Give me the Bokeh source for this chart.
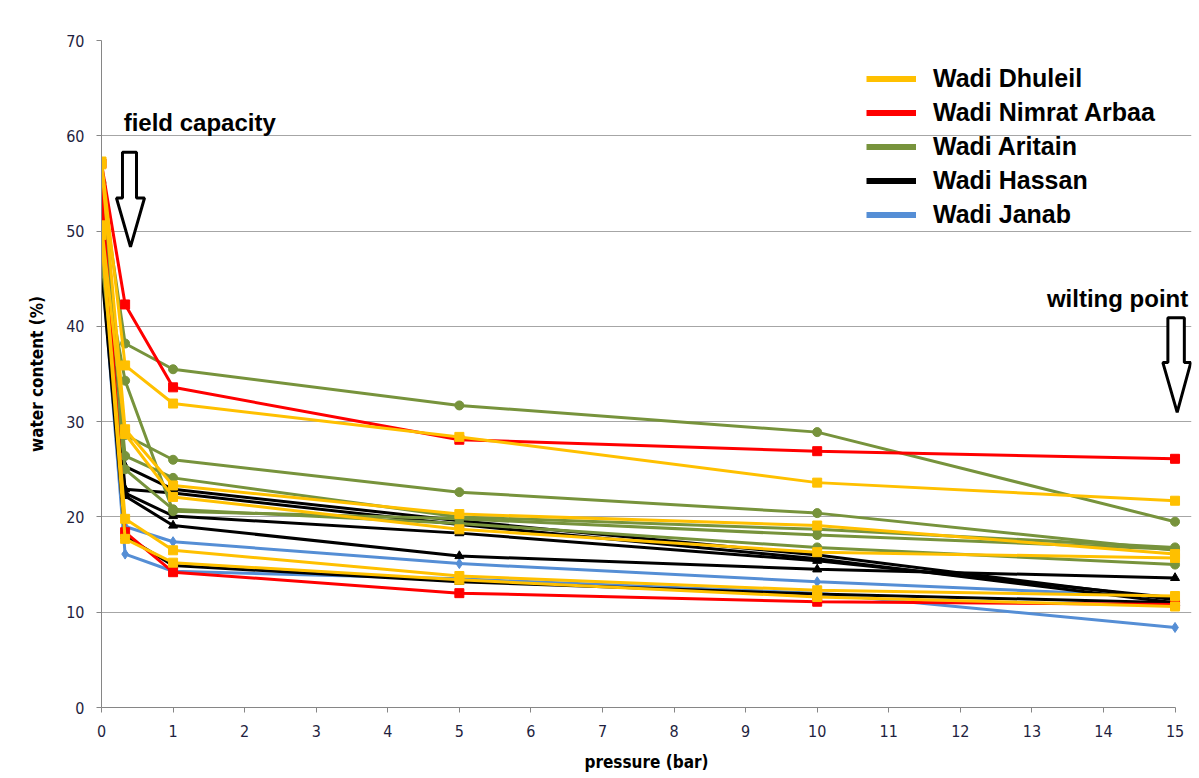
from bokeh.plotting import figure
from bokeh.models import Range1d, Legend, LegendItem, PolyAnnotation, Label, FixedTicker
from bokeh.embed import file_html
from bokeh.resources import INLINE

pressure = [0, 0.33, 1, 5, 10, 15]

dhuleil = [
    [57.3, 35.9, 31.9, 28.4, 23.6, 21.7],
    [57.0, 29.2, 23.3, 20.3, 19.1, 16.1],
    [50.6, 28.7, 22.1, 18.7, 16.3, 15.7],
    [50.0, 19.8, 16.5, 13.8, 12.3, 11.7],
    [49.6, 17.7, 15.2, 13.4, 11.6, 10.6],
]
nimrat = [
    [57.1, 42.3, 33.6, 28.1, 26.9, 26.1],
    [54.3, 18.4, 14.2, 12.0, 11.1, 10.8],
]
aritain = [
    [55.1, 38.2, 35.5, 31.7, 28.9, 19.5],
    [53.8, 28.6, 26.0, 22.6, 20.4, 16.5],
    [52.5, 26.4, 24.1, 20.0, 18.7, 16.8],
    [47.8, 34.3, 20.6, 19.8, 18.1, 16.6],
    [47.0, 25.0, 20.8, 19.3, 16.8, 15.0],
]
hassan = [
    [52.4, 25.3, 22.9, 19.6, 16.0, 11.3],
    [51.7, 22.9, 22.5, 19.2, 15.6, 11.0],
    [46.8, 22.5, 20.1, 18.3, 15.4, 11.5],
    [46.5, 22.2, 19.1, 15.9, 14.5, 13.6],
    [46.0, 18.0, 14.9, 13.2, 11.9, 11.0],
]
janab = [
    [47.2, 19.0, 17.4, 15.1, 13.2, 11.6],
    [46.8, 16.1, 14.3, 13.5, 12.0, 8.4],
]

names = ["Wadi Dhuleil", "Wadi Nimrat Arbaa", "Wadi Aritain", "Wadi Hassan", "Wadi Janab"]
x_ticks = list(range(0, 16))
y_ticks = list(range(0, 71, 10))

YELLOW = "#FFC000"
RED = "#FF0000"
GREEN = "#77933C"
BLACK = "#000000"
BLUE = "#558ED5"
NARROW = "'Liberation Sans Narrow', 'DejaVu Sans Condensed', 'Arial Narrow', sans-serif"

p = figure(width=1199, height=774, output_backend="svg", toolbar_location=None,
           x_range=Range1d(0, 15.23), y_range=Range1d(0, 70),
           min_border_left=101, min_border_right=8, min_border_top=40, min_border_bottom=65)
p.outline_line_color = None
p.xgrid.grid_line_color = None
p.ygrid.grid_line_color = "#A6A6A6"
p.ygrid.grid_line_width = 1

p.xaxis.ticker = FixedTicker(ticks=x_ticks)
p.yaxis.ticker = FixedTicker(ticks=y_ticks)
p.xaxis.bounds = (0, 15)
for ax in (p.xaxis[0], p.yaxis[0]):
    ax.axis_line_color = "#868686"
    ax.major_tick_line_color = "#868686"
    ax.minor_tick_line_color = None
    ax.major_tick_in = 0
    ax.major_tick_out = 5
    ax.major_label_text_font = NARROW
    ax.major_label_text_font_size = "16px"
    ax.major_label_text_color = "#1F1F3F"
    ax.axis_label_text_font = NARROW
    ax.axis_label_text_font_style = "bold"
    ax.axis_label_text_font_size = "17px"
    ax.axis_label_text_color = "#000000"
p.xaxis.axis_label = "pressure (bar)"
p.yaxis.axis_label = "water content (%)"
p.xaxis.major_label_standoff = 12
p.xaxis.axis_label_standoff = 12
p.yaxis.major_label_standoff = 12
p.yaxis.axis_label_standoff = 16

def draw(group, color, marker, size):
    for ys in group:
        p.line(pressure, ys, line_color=color, line_width=3)
        p.scatter(pressure, ys, marker=marker, size=size, fill_color=color, line_color=color)

draw(janab, BLUE, "diamond", 10)
draw(hassan, BLACK, "triangle", 9)
draw(aritain, GREEN, "circle", 9)
draw(nimrat, RED, "square", 9)
draw(dhuleil, YELLOW, "square", 9)

items = []
for name, color in zip(names, [YELLOW, RED, GREEN, BLACK, BLUE]):
    r = p.line([0], [-50], line_color=color, line_width=6)
    items.append(LegendItem(label=name, renderers=[r]))
legend = Legend(items=items, location=(765, 478), glyph_width=50, glyph_height=25,
                label_text_font="Liberation Sans", label_text_font_style="bold",
                label_text_font_size="25px", label_text_color="black", spacing=5,
                label_standoff=17, background_fill_alpha=0, border_line_color=None,
                padding=0, margin=0)
p.add_layout(legend)

fc_x = [0.293, 0.489, 0.489, 0.601, 0.405, 0.209, 0.293]
fc_y = [58.28, 58.28, 53.47, 53.47, 48.34, 53.47, 53.47]
wp_x = [14.90, 15.13, 15.13, 15.22, 15.03, 14.83, 14.90]
wp_y = [40.91, 40.91, 36.20, 36.20, 30.97, 36.20, 36.20]
for xs, ys in ((fc_x, fc_y), (wp_x, wp_y)):
    p.add_layout(PolyAnnotation(xs=xs, ys=ys, fill_color="white", fill_alpha=1,
                                line_color="black", line_alpha=1, line_width=3))

p.add_layout(Label(x=0.31, y=62.8, text="field capacity", text_baseline="top",
                   text_font="Liberation Sans", text_font_style="bold",
                   text_font_size="24px", text_color="black"))
p.add_layout(Label(x=13.21, y=44.3, text="wilting point", text_baseline="top",
                   text_font="Liberation Sans", text_font_style="bold",
                   text_font_size="24px", text_color="black"))

open("out.html", "w").write(file_html(p, INLINE))
